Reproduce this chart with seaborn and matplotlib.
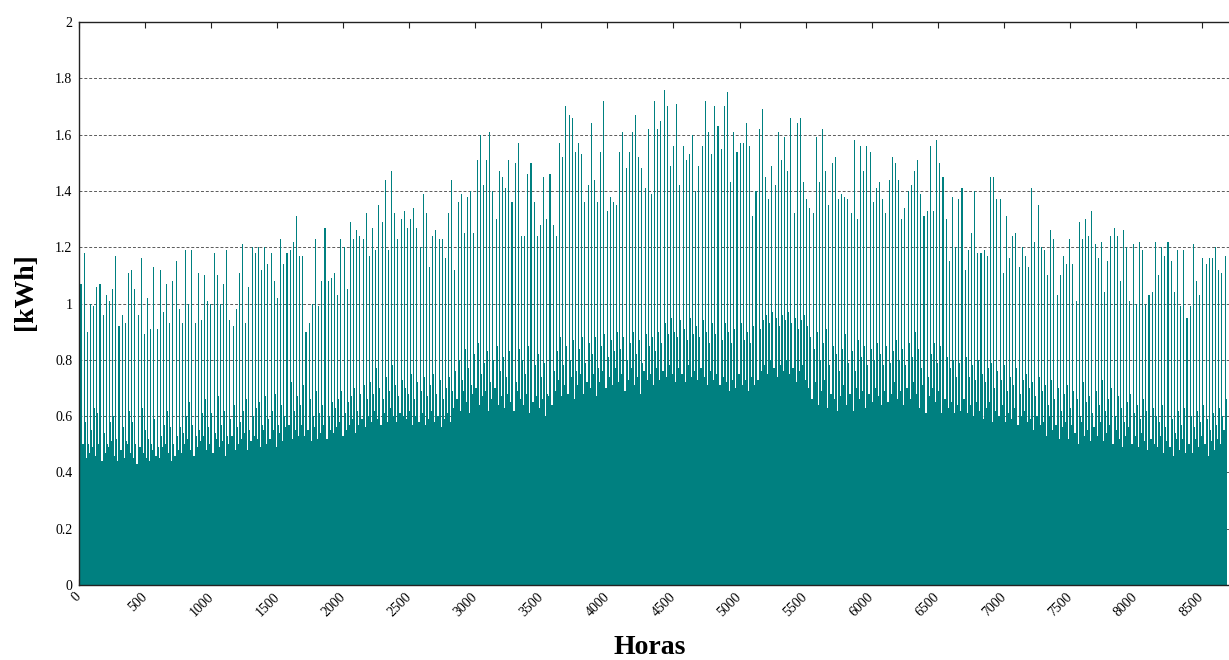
import numpy as np
import pandas as pd
import matplotlib
matplotlib.use("Agg")
import matplotlib.pyplot as plt
import seaborn as sns

# Hourly consumption over one year, summarised per day:
# peak_kwh = tallest hour of the day, mid_kwh = second level spike,
# low_kwh = top of the solid band underneath.
peak_kwh = [
    1.07, 1.18, 0.90, 1.00, 0.99, 1.06, 1.07, 0.96, 1.03, 1.01,
    1.05, 1.17, 0.92, 0.96, 0.93, 1.11, 1.12, 1.05, 0.96, 1.16,
    0.89, 1.02, 0.91, 1.13, 0.91, 1.12, 0.97, 1.07, 0.93, 1.08,
    1.15, 0.98, 0.93, 1.19, 1.00, 1.19, 0.93, 1.11, 0.94, 1.10,
    1.01, 1.00, 1.18, 1.10, 1.00, 1.07, 1.19, 0.94, 0.92, 0.98,
    1.11, 1.21, 0.93, 1.06, 1.20, 1.18, 1.20, 1.12, 1.20, 1.14,
    1.18, 1.08, 1.02, 1.23, 1.14, 1.18, 1.19, 1.22, 1.31, 1.17,
    1.17, 0.90, 0.93, 1.00, 1.23, 0.99, 1.08, 1.27, 1.08, 1.09,
    1.11, 1.03, 1.23, 1.20, 1.05, 1.29, 1.23, 1.26, 1.24, 1.23,
    1.32,
    1.17, 1.27, 1.19, 1.35, 1.29, 1.44, 1.19, 1.47, 1.32, 1.23,
    1.30, 1.33, 1.27, 1.30, 1.34, 1.27, 1.20, 1.39, 1.32, 1.13,
    1.24, 1.26, 1.23, 1.23, 1.16, 1.32, 1.44, 1.12, 1.36, 1.39,
    1.25, 1.38, 1.40, 1.25, 1.51, 1.60, 1.42, 1.51, 1.61, 1.40,
    1.30, 1.47, 1.45, 1.41, 1.51, 1.36, 1.50, 1.57, 1.24, 1.24,
    1.46, 1.50, 1.36, 1.24, 1.28, 1.45, 1.30, 1.46, 1.28, 1.24,
    1.57, 1.52, 1.70, 1.67, 1.66, 1.54, 1.57, 1.53, 1.36, 1.42,
    1.64, 1.44, 1.36, 1.54, 1.72, 1.33, 1.38, 1.36, 1.35, 1.54,
    1.61, 1.48, 1.54, 1.61, 1.67, 1.52, 1.48, 1.41, 1.62, 1.39,
    1.72, 1.62,
    1.65, 1.76, 1.70, 1.49, 1.56, 1.71, 1.42, 1.56, 1.51, 1.53,
    1.60, 1.40, 1.49, 1.56, 1.72, 1.61, 1.53, 1.70, 1.63, 1.55,
    1.70, 1.75, 1.43, 1.61, 1.54, 1.57, 1.57, 1.64, 1.56, 1.31,
    1.40, 1.62, 1.69, 1.45, 1.37, 1.49, 1.42, 1.61, 1.51, 1.59,
    1.47, 1.66, 1.32, 1.64, 1.66, 1.43, 1.37, 1.34, 1.32, 1.59,
    1.43, 1.62, 1.47, 1.35, 1.50, 1.52, 1.37, 1.39, 1.38, 1.37,
    1.32, 1.58, 1.30, 1.56, 1.47, 1.56, 1.54, 1.36, 1.41, 1.43,
    1.37, 1.32, 1.44, 1.52, 1.50, 1.44, 1.30, 1.34, 1.40, 1.42,
    1.47, 1.51, 1.39, 1.31, 1.33, 1.56, 1.33,
    1.58, 1.50, 1.45, 1.30, 1.15, 1.38, 1.20, 1.37, 1.41, 1.12,
    1.19, 1.25, 1.40, 1.18, 1.18, 1.19, 1.17, 1.45, 1.45, 1.37,
    1.37, 1.11, 1.31, 1.16, 1.24, 1.25, 1.13, 1.20, 1.17, 1.13,
    1.41, 1.22, 1.35, 1.20, 1.19, 1.10, 1.26, 1.23, 1.03, 1.10,
    1.17, 1.14, 1.23, 1.14, 1.01, 1.29, 1.23, 1.30, 1.24, 1.33,
    1.21, 1.16, 1.22, 1.04, 1.15, 1.24, 1.27, 1.24, 1.08, 1.26,
    1.20, 1.01, 1.21, 1.00, 1.22, 1.19, 1.00, 1.03, 1.04, 1.22,
    1.10, 1.20, 1.17, 1.22, 1.15, 1.04, 1.19, 0.99, 1.19, 0.95,
    0.99, 1.21, 1.08, 1.03, 1.16, 1.14, 1.16, 1.16, 1.20, 1.12,
    1.11, 1.17,
]

mid_kwh = [
    0.51, 0.58, 0.50, 0.55, 0.63, 0.61, 0.62, 0.54, 0.50, 0.58,
    0.60, 0.52, 0.49, 0.56, 0.51, 0.62, 0.58, 0.50, 0.49, 0.63,
    0.55, 0.52, 0.50, 0.59, 0.49, 0.53, 0.57, 0.62, 0.56, 0.50,
    0.53, 0.56, 0.54, 0.60, 0.65, 0.57, 0.53, 0.55, 0.61, 0.66,
    0.56, 0.61, 0.54, 0.67, 0.57, 0.62, 0.53, 0.59, 0.64, 0.56,
    0.58, 0.62, 0.66, 0.55, 0.60, 0.63, 0.65, 0.57, 0.67, 0.59,
    0.62, 0.68, 0.57, 0.64, 0.60, 0.70, 0.72, 0.62, 0.67, 0.64,
    0.71, 0.63, 0.66, 0.60, 0.69, 0.61, 0.64, 0.68, 0.60, 0.65,
    0.63, 0.66, 0.69, 0.61, 0.65, 0.67, 0.70, 0.62, 0.68, 0.71,
    0.66, 0.72, 0.68, 0.77, 0.70, 0.66, 0.74, 0.69, 0.78, 0.71,
    0.67, 0.73, 0.70, 0.68, 0.75, 0.66, 0.72, 0.69, 0.74, 0.67,
    0.71, 0.75, 0.68, 0.73, 0.66, 0.70, 0.74, 0.69, 0.76, 0.80,
    0.73, 0.84, 0.77, 0.71, 0.82, 0.86, 0.75, 0.79, 0.83, 0.72,
    0.80, 0.85, 0.76, 0.81, 0.74, 0.83, 0.78, 0.72, 0.84, 0.80,
    0.75, 0.85, 0.70, 0.78, 0.82, 0.74, 0.79, 0.68, 0.81, 0.76,
    0.83, 0.88, 0.78, 0.85, 0.80, 0.87, 0.76, 0.84, 0.88, 0.79,
    0.86, 0.82, 0.88, 0.77, 0.85, 0.89, 0.81, 0.87, 0.83, 0.90,
    0.84, 0.88, 0.80, 0.86, 0.90, 0.82, 0.87, 0.79, 0.89, 0.85,
    0.88, 0.83, 0.90, 0.86, 0.93, 0.89, 0.95, 0.90, 0.88, 0.94,
    0.91, 0.87, 0.95, 0.89, 0.92, 0.88, 0.94, 0.90, 0.86, 0.93,
    0.89, 0.92, 0.87, 0.93, 0.90, 0.86, 0.91, 0.88, 0.93, 0.87,
    0.90, 0.86, 0.92, 0.88, 0.91, 0.94, 0.96, 0.93, 0.97, 0.95,
    0.92, 0.96, 0.94, 0.97, 0.93, 0.95, 0.91, 0.94, 0.96, 0.92,
    0.88, 0.84, 0.90, 0.80, 0.86, 0.91, 0.78, 0.85, 0.82, 0.76,
    0.84, 0.89, 0.79, 0.83, 0.76, 0.87, 0.81, 0.85, 0.78, 0.84,
    0.80, 0.86, 0.82, 0.78, 0.85, 0.79, 0.83, 0.87, 0.80, 0.84,
    0.78, 0.86, 0.81, 0.90, 0.84, 0.77, 0.88, 0.74, 0.82, 0.86,
    0.79, 0.85, 0.73, 0.81, 0.77, 0.80, 0.74, 0.79, 0.76, 0.81,
    0.74, 0.78, 0.73, 0.80, 0.75, 0.72, 0.77, 0.79, 0.70, 0.76,
    0.73, 0.78, 0.69, 0.74, 0.71, 0.77, 0.68, 0.73, 0.75, 0.70,
    0.72, 0.67, 0.74, 0.69, 0.71, 0.64, 0.73, 0.66, 0.70, 0.62,
    0.68, 0.71, 0.63, 0.69, 0.66, 0.60, 0.72, 0.65, 0.67, 0.61,
    0.69, 0.64, 0.73, 0.62, 0.66, 0.70, 0.60, 0.67, 0.63, 0.58,
    0.65, 0.68, 0.61, 0.64, 0.59, 0.66, 0.62, 0.57, 0.63, 0.60,
    0.58, 0.64, 0.56, 0.61, 0.59, 0.54, 0.62, 0.57, 0.63, 0.55,
    0.60, 0.56, 0.62, 0.58, 0.64, 0.59, 0.55, 0.61, 0.57, 0.63,
    0.60, 0.66,
]

low_kwh = [
    0.48, 0.50, 0.45, 0.47, 0.49, 0.46, 0.50, 0.44, 0.47, 0.49,
    0.51, 0.46, 0.44, 0.48, 0.45, 0.50, 0.47, 0.45, 0.43, 0.49,
    0.47, 0.45, 0.44, 0.48, 0.46, 0.45, 0.49, 0.50, 0.47, 0.44,
    0.46, 0.48, 0.47, 0.50, 0.52, 0.48, 0.46, 0.49, 0.51, 0.53,
    0.48, 0.50, 0.47, 0.52, 0.49, 0.51, 0.46, 0.50, 0.53, 0.48,
    0.50, 0.52, 0.54, 0.48, 0.51, 0.53, 0.52, 0.49, 0.55, 0.50,
    0.52, 0.55, 0.49, 0.54, 0.51, 0.56, 0.57, 0.52, 0.55, 0.53,
    0.57, 0.53, 0.55, 0.51, 0.56, 0.52, 0.54, 0.57, 0.52, 0.55,
    0.54, 0.56, 0.58, 0.53, 0.55, 0.57, 0.59, 0.54, 0.57, 0.59,
    0.56, 0.60, 0.58, 0.62, 0.59, 0.57, 0.61, 0.58, 0.63, 0.60,
    0.58, 0.61, 0.60, 0.59, 0.62, 0.57, 0.60, 0.58, 0.61, 0.57,
    0.59, 0.62, 0.58, 0.60, 0.56, 0.59, 0.61, 0.58, 0.63, 0.66,
    0.62, 0.69, 0.65, 0.61, 0.68, 0.70, 0.64, 0.67, 0.69, 0.62,
    0.66, 0.70, 0.64, 0.67, 0.63, 0.68, 0.65, 0.62, 0.69, 0.66,
    0.64, 0.68, 0.61, 0.65, 0.67, 0.63, 0.66, 0.60, 0.67, 0.64,
    0.69, 0.73, 0.67, 0.71, 0.68, 0.74, 0.66, 0.71, 0.75, 0.68,
    0.72, 0.70, 0.75, 0.67, 0.72, 0.76, 0.70, 0.74, 0.71, 0.77,
    0.72, 0.75, 0.69, 0.73, 0.77, 0.71, 0.74, 0.68, 0.76, 0.73,
    0.75, 0.71, 0.77, 0.73, 0.76, 0.74, 0.78, 0.75, 0.72, 0.77,
    0.75, 0.72, 0.78, 0.74, 0.76, 0.73, 0.77, 0.74, 0.71, 0.76,
    0.73, 0.75, 0.71, 0.74, 0.72, 0.69, 0.73, 0.70, 0.75, 0.71,
    0.73, 0.69, 0.74, 0.71, 0.73, 0.76, 0.78, 0.75, 0.80, 0.77,
    0.74, 0.78, 0.76, 0.80, 0.75, 0.77, 0.72, 0.76, 0.78, 0.73,
    0.70, 0.66, 0.72, 0.64, 0.69, 0.73, 0.63, 0.68, 0.66, 0.62,
    0.67, 0.71, 0.64, 0.68, 0.62, 0.70, 0.66, 0.69, 0.63, 0.68,
    0.65, 0.70, 0.67, 0.64, 0.69, 0.65, 0.68, 0.72, 0.66, 0.69,
    0.64, 0.70, 0.66, 0.72, 0.68, 0.63, 0.71, 0.61, 0.67, 0.70,
    0.65, 0.69, 0.61, 0.66, 0.63, 0.65, 0.61, 0.64, 0.62, 0.66,
    0.61, 0.64, 0.60, 0.65, 0.62, 0.59, 0.63, 0.65, 0.58, 0.62,
    0.60, 0.64, 0.58, 0.61, 0.59, 0.63, 0.57, 0.60, 0.62, 0.58,
    0.59, 0.55, 0.60, 0.57, 0.58, 0.53, 0.60, 0.55, 0.57, 0.52,
    0.56, 0.58, 0.52, 0.57, 0.54, 0.50, 0.58, 0.53, 0.55, 0.51,
    0.56, 0.53, 0.58, 0.51, 0.54, 0.57, 0.50, 0.55, 0.52, 0.49,
    0.53, 0.56, 0.50, 0.53, 0.49, 0.54, 0.51, 0.48, 0.52, 0.50,
    0.49, 0.53, 0.47, 0.51, 0.49, 0.46, 0.52, 0.48, 0.52, 0.47,
    0.50, 0.47, 0.52, 0.49, 0.53, 0.50, 0.46, 0.51, 0.48, 0.52,
    0.50, 0.55,
]

x_ticks = list(range(0, 8501, 500))
y_ticks = [0, 0.2, 0.4, 0.6, 0.8, 1.0, 1.2, 1.4, 1.6, 1.8, 2.0]
y_tick_labels = ["0", "0.2", "0.4", "0.6", "0.8", "1", "1.2", "1.4", "1.6", "1.8", "2"]

TEAL = "#008080"

sns.set_style("white")
plt.rcParams["font.family"] = ["Liberation Serif", "DejaVu Serif"]
plt.rcParams["text.color"] = "black"
plt.rcParams["axes.labelcolor"] = "black"
plt.rcParams["xtick.color"] = "black"
plt.rcParams["ytick.color"] = "black"

# one row per day, hour position of each level inside the day
days = np.arange(len(peak_kwh))
df = pd.DataFrame({
    "low_hour": days * 24 + 12,
    "mid_hour": days * 24 + 20,
    "peak_hour": days * 24 + 13,
    "low": low_kwh,
    "mid": mid_kwh,
    "peak": peak_kwh,
})

fig = plt.figure(figsize=(12.29, 6.6), dpi=100)
# right edge of the plot runs past the picture, as in the original
ax = fig.add_axes([0.0645, 0.1136, 0.9412, 0.8530])

ax.set_axisbelow(True)
ax.yaxis.grid(True, linestyle=(0, (3, 2)), color="#5a5a5a", linewidth=0.7)

common = dict(native_scale=True, errorbar=None, color=TEAL, saturation=1,
              linewidth=0, ax=ax)
sns.barplot(data=df, x="low_hour", y="low", width=1.0, **common)
sns.barplot(data=df, x="mid_hour", y="mid", width=0.35, **common)
sns.barplot(data=df, x="peak_hour", y="peak", width=0.33, **common)

ax.set_xlim(0, 8760)
ax.set_ylim(0, 2)
ax.set_xticks(x_ticks)
ax.set_xticklabels([str(t) for t in x_ticks], rotation=45, ha="right",
                   va="center", rotation_mode="anchor", fontsize=10)
ax.set_yticks(y_ticks)
ax.set_yticklabels(y_tick_labels, fontsize=10)
ax.tick_params(axis="x", direction="in", length=4, top=True, bottom=True,
               pad=7, color="#222222")
ax.tick_params(axis="y", length=0, pad=5)

for side in ["left", "bottom", "top"]:
    ax.spines[side].set_visible(True)
    ax.spines[side].set_color("#222222")
    ax.spines[side].set_linewidth(1.0)

ax.set_xlabel("Horas", fontsize=20, fontweight="bold")
ax.set_ylabel("[kWh]", fontsize=20, fontweight="bold")
ax.xaxis.set_label_coords(0.4934, -0.088)
ax.yaxis.set_label_coords(-0.036, 0.522)

fig.savefig("out.png", dpi=100)
